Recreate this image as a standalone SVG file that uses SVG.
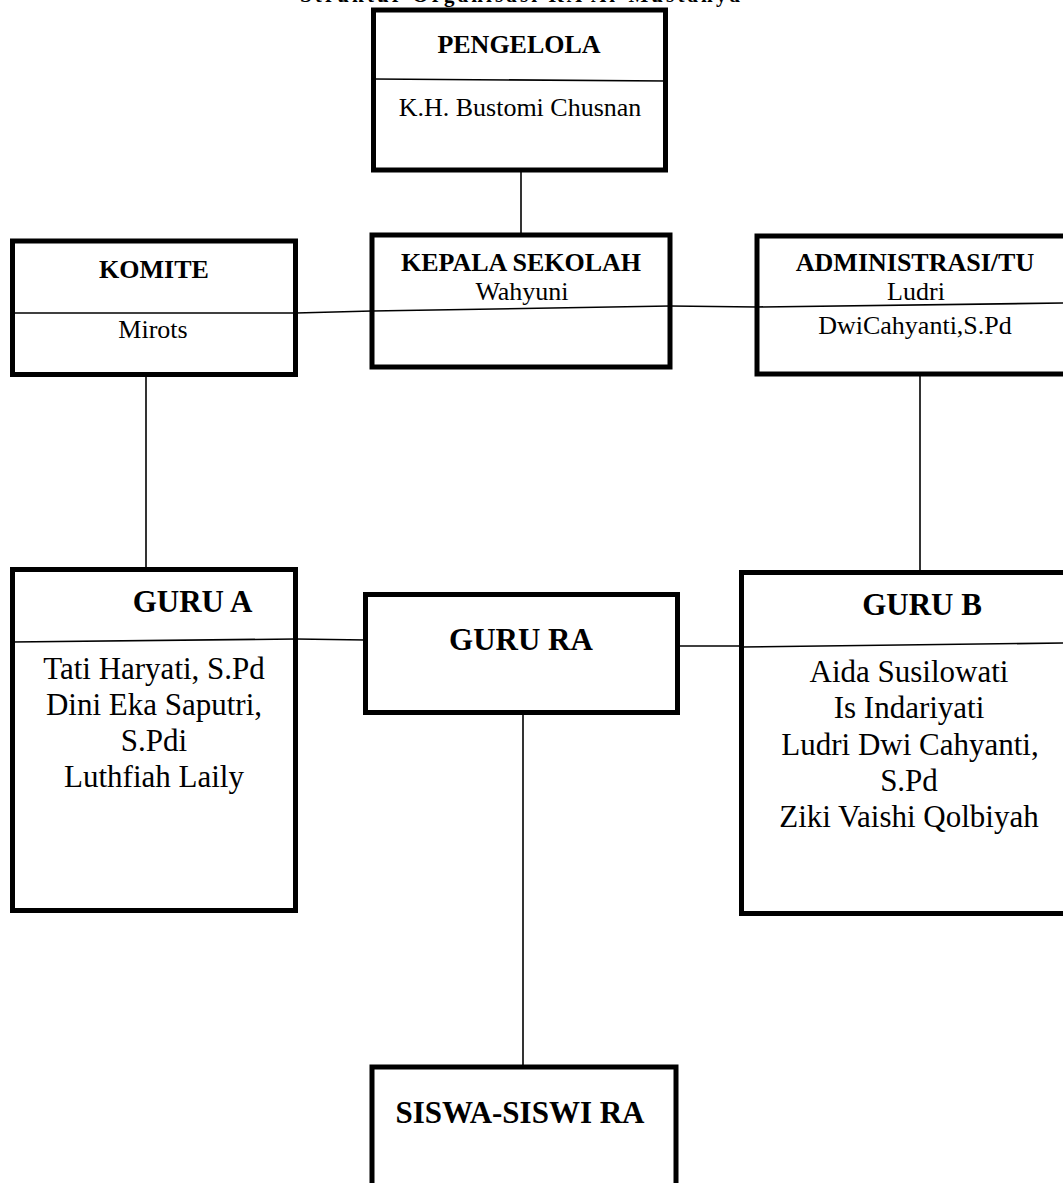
<svg xmlns="http://www.w3.org/2000/svg" width="1063" height="1183" viewBox="0 0 1063 1183">
<style>
  .box { fill: #fff; stroke: #000; stroke-width: 5; }
  .div { fill: none; stroke: #000; stroke-width: 1.6; }
  .con { fill: none; stroke: #000; stroke-width: 1.6; }
  text { font-family: "Liberation Serif", "Times New Roman", serif; fill: #000; text-anchor: middle; }
  .b { font-weight: bold; font-size: 26px; }
  .r { font-size: 26px; }
  .bl { font-weight: bold; font-size: 31px; }
  .rl { font-size: 31px; }
</style>
<rect width="1063" height="1183" fill="#fff"/>
<text x="300" y="2" style="text-anchor:start;font-weight:bold;font-size:21px" textLength="440" lengthAdjust="spacing">Struktur Organisasi RA Al-Mustanya</text>

<g id="connectors">
  <line class="con" x1="521" y1="162" x2="521" y2="236"/>
  <polyline class="con" points="296,313 372,311"/>
  <polyline class="con" points="670,306 757,307"/>
  <line class="con" x1="146" y1="374" x2="146" y2="570"/>
  <line class="con" x1="920" y1="368" x2="920" y2="573"/>
  <line class="con" x1="296" y1="639" x2="366" y2="640"/>
  <line class="con" x1="677" y1="646" x2="741" y2="646"/>
  <line class="con" x1="523" y1="712" x2="523" y2="1067"/>
</g>

<g id="pengelola">
  <rect class="box" x="373.5" y="10" width="292" height="160"/>
  <line class="div" x1="374" y1="79" x2="666" y2="81"/>
  <text class="b" x="519" y="53">PENGELOLA</text>
  <text class="r" x="520" y="116">K.H. Bustomi Chusnan</text>
</g>

<g id="komite">
  <rect class="box" x="12.5" y="241" width="283" height="133.5"/>
  <line class="div" x1="12" y1="313" x2="296" y2="313"/>
  <text class="b" x="154" y="278">KOMITE</text>
  <text class="r" x="153" y="338">Mirots</text>
</g>

<g id="kepala-sekolah">
  <rect class="box" x="372" y="235" width="298" height="132"/>
  <line class="div" x1="372" y1="311" x2="670" y2="306"/>
  <text class="b" x="521" y="271">KEPALA SEKOLAH</text>
  <text class="r" x="522" y="300">Wahyuni</text>
</g>

<g id="administrasi">
  <rect class="box" x="757" y="236" width="316" height="138"/>
  <line class="div" x1="757" y1="307" x2="1063" y2="303"/>
  <text class="b" x="915" y="271">ADMINISTRASI/TU</text>
  <text class="r" x="916" y="300">Ludri</text>
  <text class="r" x="915" y="334">DwiCahyanti,S.Pd</text>
</g>

<g id="guru-a">
  <rect class="box" x="12.5" y="569.5" width="283" height="341"/>
  <line class="div" x1="12" y1="642" x2="296" y2="639"/>
  <text class="bl" x="192.5" y="612">GURU A</text>
  <text class="rl" x="154" y="679">Tati Haryati, S.Pd</text>
  <text class="rl" x="154" y="715">Dini Eka Saputri,</text>
  <text class="rl" x="154" y="751">S.Pdi</text>
  <text class="rl" x="154" y="787">Luthfiah Laily</text>
</g>

<g id="guru-ra">
  <rect class="box" x="365.5" y="594.5" width="312" height="118"/>
  <text class="bl" x="521" y="650">GURU RA</text>
</g>

<g id="guru-b">
  <rect class="box" x="741.5" y="572.5" width="340" height="341"/>
  <line class="div" x1="741" y1="647" x2="1063" y2="643"/>
  <text class="bl" x="922" y="615">GURU B</text>
  <text class="rl" x="909" y="682">Aida Susilowati</text>
  <text class="rl" x="909" y="718">Is Indariyati</text>
  <text class="rl" x="910" y="755">Ludri Dwi Cahyanti,</text>
  <text class="rl" x="909" y="791">S.Pd</text>
  <text class="rl" x="909" y="827">Ziki Vaishi Qolbiyah</text>
</g>

<g id="siswa-siswi">
  <rect class="box" x="372" y="1067" width="304" height="140"/>
  <text class="bl" x="520" y="1123">SISWA-SISWI RA</text>
</g>
</svg>
